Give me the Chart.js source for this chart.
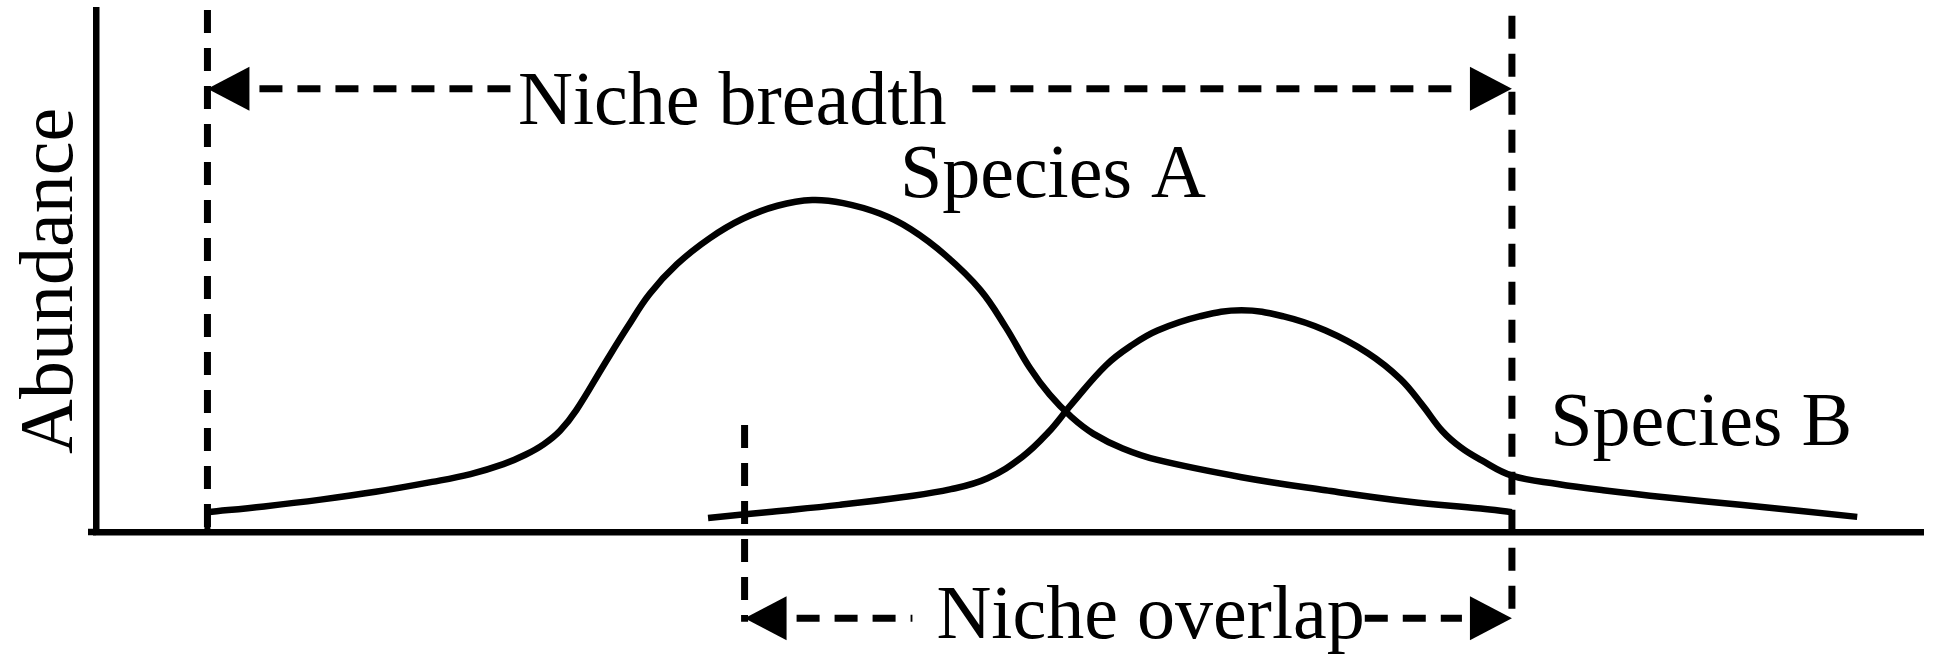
<!DOCTYPE html>
<html>
<head>
<meta charset="utf-8">
<script src="https://cdn.jsdelivr.net/npm/chart.js@4/dist/chart.umd.min.js"></script>
<style>
html,body{margin:0;padding:0;background:#ffffff;}
canvas{display:block;}
</style>
</head>
<body>
<canvas id="c" width="1934" height="657"></canvas>
<script>
// ---- Data (environmental gradient 0-100, abundance 0-100) ----
const gradientA  = [6.1, 9.2, 12.3, 15.3, 18.4, 20.5, 22.3, 23.5, 24.5, 25.4, 26.3, 27.8, 29.1, 30.3, 31.8, 33.6, 35.4, 37.3, 39.2, 40.9, 42.9, 44.6, 46.5, 48.4, 49.8, 51.1, 52.2, 53.4, 54.6, 56.2, 58.1, 62.7, 67.3, 71.9, 75.8, 77.5];
const abundanceA = [3.8, 4.9, 6.2, 7.7, 9.6, 11.1, 13.0, 14.8, 16.8, 19.4, 23.4, 32.0, 39.3, 45.6, 51.3, 56.3, 60.0, 62.5, 63.6, 63.0, 61.0, 58.0, 53.0, 46.4, 39.2, 31.5, 26.3, 22.0, 18.8, 16.0, 13.8, 10.5, 8.0, 5.8, 4.5, 3.8];
const gradientB  = [33.5, 37.0, 40.7, 44.2, 46.8, 48.8, 50.7, 52.1, 53.4, 55.3, 56.7, 58.1, 60.4, 62.7, 65.0, 67.3, 69.6, 71.4, 72.6, 73.7, 74.7, 75.8, 77.5, 80.0, 82.5, 86.0, 90.0, 96.4];
const abundanceB = [2.7, 3.9, 5.2, 6.7, 8.2, 10.3, 14.4, 19.0, 24.5, 32.0, 35.8, 38.6, 41.3, 42.5, 41.3, 38.6, 34.3, 29.3, 24.3, 19.3, 16.2, 13.8, 10.8, 9.2, 8.0, 6.6, 5.2, 2.9];

const seriesNames  = ["Species A", "Species B"];
const axisTitle    = "Abundance";
const breadthRange = [6.1, 77.5];   // niche breadth of species A (gradient units)
const overlapRange = [35.5, 77.5];  // overlap of A and B (gradient units)
const breadthLabel = "Niche breadth";
const overlapLabel = "Niche overlap";

// ---- Annotation placement (in data units) ----
const annot = {
  breadthArrowY: 84.9, breadthTextX: 23.1, breadthTextY: 78.2,
  overlapArrowY: -16.5, overlapTextX: 46.0, overlapTextY: -20.3,
  leftGuide:  [100, 0],
  rightGuide: [98.9, -17.2],
  overlapGuide: [20.5, -17.2],
  speciesA: [44.0, 64.2],
  speciesB: [79.6, 16.7],
  axisTitle: [-1.3, 48.1]
};
// gaps (px) between dashes and label text: [before text, after text]
const breadthGaps = [0, 26];
const overlapGaps = [24, 0];

const FONT = '76px "Liberation Serif", "Times New Roman", serif';

const toPoints = (xs, ys) => xs.map((x, i) => ({x: x, y: ys[i]}));

const annotationPlugin = {
  id: 'nicheAnnotations',
  afterDraw(chart) {
    const ctx = chart.ctx;
    const X = chart.scales.x, Y = chart.scales.y;
    const px = v => X.getPixelForValue(v);
    const py = v => Y.getPixelForValue(v);
    ctx.save();
    ctx.strokeStyle = '#000';
    ctx.fillStyle = '#000';

    // small overhang of the x axis to the left of the y axis
    ctx.save();
    ctx.lineWidth = 6.5;
    ctx.beginPath();
    ctx.moveTo(X.left - 8, Y.bottom);
    ctx.lineTo(X.left, Y.bottom);
    ctx.stroke();
    // connector of species A's curve down to the axis
    ctx.lineWidth = 6;
    ctx.beginPath();
    ctx.moveTo(px(gradientA[0]), py(0));
    ctx.lineTo(px(gradientA[0]), py(abundanceA[0]));
    ctx.stroke();
    ctx.restore();

    function dashLine(x1, y1, x2, y2) {
      ctx.save();
      ctx.lineWidth = 7;
      ctx.lineCap = 'butt';
      ctx.setLineDash([23, 15]);
      ctx.beginPath();
      ctx.moveTo(x1, y1);
      ctx.lineTo(x2, y2);
      ctx.stroke();
      ctx.restore();
    }
    function arrowHead(tipX, y, dir) {
      const L = 42, H = 22;
      ctx.beginPath();
      ctx.moveTo(tipX, y);
      ctx.lineTo(tipX + dir * L, y - H);
      ctx.lineTo(tipX + dir * L, y + H);
      ctx.closePath();
      ctx.fill();
    }

    // vertical guides
    dashLine(px(breadthRange[0]), py(annot.leftGuide[0]), px(breadthRange[0]), py(annot.leftGuide[1]));
    dashLine(px(breadthRange[1]), py(annot.rightGuide[0]), px(breadthRange[1]), py(annot.rightGuide[1]));
    dashLine(px(overlapRange[0]), py(annot.overlapGuide[0]), px(overlapRange[0]), py(annot.overlapGuide[1]));

    ctx.font = FONT;
    ctx.textBaseline = 'alphabetic';
    ctx.textAlign = 'left';

    function rangeArrow(range, arrowY, label, tx, ty, gaps) {
      const yA = py(arrowY);
      const xL = px(range[0]), xR = px(range[1]);
      arrowHead(xL, yA, 1);
      arrowHead(xR, yA, -1);
      const tX = px(tx);
      const w = ctx.measureText(label).width;
      dashLine(xL + 52, yA, tX - gaps[0], yA);
      dashLine(tX + w + gaps[1], yA, xR - 50, yA);
      ctx.fillText(label, tX, py(ty));
    }
    rangeArrow(breadthRange, annot.breadthArrowY, breadthLabel, annot.breadthTextX, annot.breadthTextY, breadthGaps);
    rangeArrow(overlapRange, annot.overlapArrowY, overlapLabel, annot.overlapTextX, annot.overlapTextY, overlapGaps);

    // species labels
    ctx.fillText(seriesNames[0], px(annot.speciesA[0]), py(annot.speciesA[1]));
    ctx.fillText(seriesNames[1], px(annot.speciesB[0]), py(annot.speciesB[1]));

    // axis title
    ctx.save();
    ctx.translate(px(annot.axisTitle[0]), py(annot.axisTitle[1]));
    ctx.rotate(-Math.PI / 2);
    ctx.textAlign = 'center';
    ctx.fillText(axisTitle, 0, 0);
    ctx.restore();

    ctx.restore();
  }
};

new Chart(document.getElementById('c'), {
  type: 'line',
  data: {
    datasets: [
      { label: seriesNames[0], data: toPoints(gradientA, abundanceA) },
      { label: seriesNames[1], data: toPoints(gradientB, abundanceB) }
    ]
  },
  options: {
    responsive: false,
    animation: false,
    devicePixelRatio: 1,
    layout: { padding: { left: 96, right: 11, top: 10, bottom: 125 } },
    elements: {
      line: { borderColor: '#000', borderWidth: 6.5, tension: 0.4, cubicInterpolationMode: 'default', fill: false, borderCapStyle: 'butt', borderJoinStyle: 'round' },
      point: { radius: 0, hoverRadius: 0 }
    },
    plugins: { legend: { display: false }, tooltip: { enabled: false }, title: { display: false } },
    scales: {
      x: {
        type: 'linear', min: 0, max: 100,
        grid: { display: false, drawTicks: false },
        ticks: { display: false },
        border: { display: true, color: '#000', width: 6.5 }
      },
      y: {
        type: 'linear', min: 0, max: 100,
        grid: { display: false, drawTicks: false },
        ticks: { display: false },
        border: { display: true, color: '#000', width: 6.5 }
      }
    }
  },
  plugins: [annotationPlugin]
});
</script>
</body>
</html>
